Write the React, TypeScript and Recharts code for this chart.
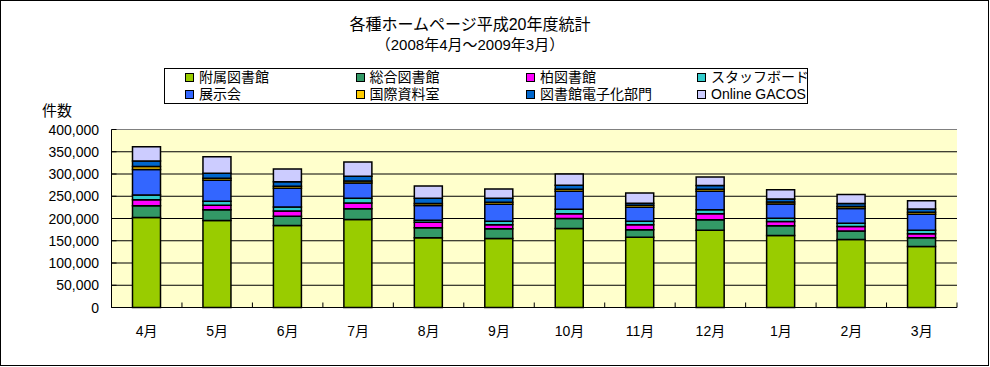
import React from "react";
import {
  BarChart,
  Bar,
  XAxis,
  YAxis,
  CartesianGrid,
  ReferenceLine,
} from "recharts";

// 各種ホームページ平成20年度統計（アクセス件数）
const months = ["4月", "5月", "6月", "7月", "8月", "9月", "10月", "11月", "12月", "1月", "2月", "3月"];

const fuzoku = [202000, 195500, 184000, 198000, 156600, 155000, 177500, 158000, 173700, 162000, 153000, 137000];
const sogo = [26500, 24000, 21000, 24000, 22400, 22000, 22500, 17000, 23300, 21500, 19000, 19600];
const kashiwa = [13500, 10500, 12000, 13000, 12750, 9000, 10500, 11000, 13500, 9500, 10000, 9400];
const staff = [11000, 9000, 9000, 10600, 4500, 8000, 10500, 8000, 9000, 7600, 7500, 7700];
const tenji = [57000, 47000, 42000, 34000, 33000, 38000, 40000, 31500, 42000, 32000, 33000, 36000];
const kokusai = [7000, 4500, 4500, 4500, 4500, 4500, 4500, 4500, 4500, 4500, 4500, 4500];
const denshi = [12000, 11000, 10000, 11000, 11500, 9000, 9000, 4500, 8000, 7000, 6500, 7000];
const gacos = [32000, 37000, 29000, 32000, 28000, 21000, 25500, 23000, 19500, 20300, 20500, 18600];

const yTicks = [0, 50000, 100000, 150000, 200000, 250000, 300000, 350000, 400000];

const SERIES = [
  { key: "fuzoku", label: "附属図書館", color: "#99CC00", values: fuzoku },
  { key: "sogo", label: "総合図書館", color: "#339966", values: sogo },
  { key: "kashiwa", label: "柏図書館", color: "#FF00FF", values: kashiwa },
  { key: "staff", label: "スタッフボード", color: "#33CCCC", values: staff },
  { key: "tenji", label: "展示会", color: "#3366FF", values: tenji },
  { key: "kokusai", label: "国際資料室", color: "#FFCC00", values: kokusai },
  { key: "denshi", label: "図書館電子化部門", color: "#0066CC", values: denshi },
  { key: "gacos", label: "Online GACOS", color: "#CCCCFF", values: gacos },
];

// legend order (2 rows x 4 columns)
const LEGEND_ORDER = ["fuzoku", "sogo", "kashiwa", "staff", "tenji", "kokusai", "denshi", "gacos"];

const FONT = "'Liberation Sans', 'Noto Sans CJK JP', sans-serif";

const W = 990;
const H = 367;
const PLOT_LEFT = 111.5;
const PLOT_RIGHT = 957;
const STEP = (PLOT_RIGHT - PLOT_LEFT) / months.length;

const data = months.map((m, i) => {
  const row: Record<string, string | number> = { month: m };
  SERIES.forEach((s) => {
    row[s.key] = s.values[i];
  });
  return row;
});

const fmt = (v: number) => v.toLocaleString("en-US");

function XTick(props: any) {
  const { x, y, payload, index } = props;
  return (
    <g>
      <line x1={x - STEP / 2} x2={x - STEP / 2} y1={y} y2={y - 5} stroke="#000" />
      {index === months.length - 1 && (
        <line x1={x + STEP / 2} x2={x + STEP / 2} y1={y} y2={y - 5} stroke="#000" />
      )}
      <text x={x} y={y + 28} textAnchor="middle" fontSize={14} fontFamily={FONT} fill="#000">
        {payload.value}
      </text>
    </g>
  );
}

function YTick(props: any) {
  const { x, y, payload } = props;
  return (
    <g>
      <line x1={x} x2={x + 5} y1={y} y2={y} stroke="#000" />
      <text x={x - 12.5} y={y + 5} textAnchor="end" fontSize={14} fontFamily={FONT} fill="#000">
        {fmt(payload.value)}
      </text>
    </g>
  );
}

function ChartLegend() {
  const cols = [184, 354.5, 525, 696];
  const rows = [77, 94];
  return (
    <div
      style={{
        position: "absolute",
        left: 164,
        top: 68,
        width: 644,
        height: 36,
        border: "1px solid #000",
        boxSizing: "border-box",
        background: "#fff",
      }}
    >
      {LEGEND_ORDER.map((k, i) => {
        const s = SERIES.find((x) => x.key === k)!;
        const cx = cols[i % 4] - 164;
        const cy = rows[Math.floor(i / 4)] - 68;
        return (
          <div key={k}>
            <div
              style={{
                position: "absolute",
                left: cx,
                top: cy - 5,
                width: 9,
                height: 9,
                boxSizing: "border-box",
                border: "1px solid #000",
                background: s.color,
              }}
            />
            <div
              style={{
                position: "absolute",
                left: cx + 14,
                top: cy - 10,
                lineHeight: "18px",
                fontSize: 14,
                fontFamily: FONT,
                whiteSpace: "nowrap",
              }}
            >
              {s.label}
            </div>
          </div>
        );
      })}
    </div>
  );
}

export default function App() {
  return (
    <div
      style={{
        position: "absolute",
        left: 0,
        top: 0,
        width: W,
        height: H,
        background: "#fff",
        fontFamily: FONT,
      }}
    >
      <div
        style={{
          position: "absolute",
          left: 0,
          top: 15,
          width: 940,
          textAlign: "center",
          fontSize: 16,
          lineHeight: "20px",
        }}
      >
        各種ホームページ平成20年度統計
      </div>
      <div
        style={{
          position: "absolute",
          left: 0,
          top: 36,
          width: 940,
          textAlign: "center",
          fontSize: 15,
          lineHeight: "18px",
        }}
      >
        （2008年4月～2009年3月）
      </div>
      <ChartLegend />
      <div
        style={{
          position: "absolute",
          left: 42,
          top: 102,
          fontSize: 15,
          lineHeight: "18px",
        }}
      >
        件数
      </div>
      <div style={{ position: "absolute", left: 0, top: 0 }}>
        <BarChart
          width={W}
          height={H}
          data={data}
          margin={{ top: 129.5, right: W - PLOT_RIGHT, left: 0, bottom: 29.5 }}
          barSize={28}
        >
          <CartesianGrid
            vertical={false}
            stroke="#000"
            fill="#FFFFCC"
            horizontalValues={[50000, 100000, 150000, 200000, 250000, 300000, 350000]}
          />
          <XAxis
            dataKey="month"
            height={30}
            tickSize={0}
            tickMargin={0}
            tickLine={false}
            axisLine={{ stroke: "#000" }}
            tick={<XTick />}
            interval={0}
          />
          <YAxis
            width={PLOT_LEFT}
            domain={[0, 400000]}
            ticks={yTicks}
            tickSize={0}
            tickMargin={0}
            tickLine={false}
            axisLine={{ stroke: "#000" }}
            tick={<YTick />}
            interval={0}
          />
          <YAxis
            yAxisId="r"
            orientation="right"
            width={0}
            domain={[0, 400000]}
            tick={false}
            tickLine={false}
            axisLine={{ stroke: "#808080" }}
          />
          <ReferenceLine y={400000} stroke="#808080" />
          {SERIES.map((s) => (
            <Bar
              key={s.key}
              dataKey={s.key}
              name={s.label}
              stackId="a"
              fill={s.color}
              stroke="#000"
              strokeWidth={1.5}
              isAnimationActive={false}
            />
          ))}
        </BarChart>
      </div>
      <div
        style={{
          position: "absolute",
          left: 0,
          top: 0,
          width: 989,
          height: 366,
          border: "1px solid #000",
          boxSizing: "border-box",
          pointerEvents: "none",
        }}
      />
    </div>
  );
}
